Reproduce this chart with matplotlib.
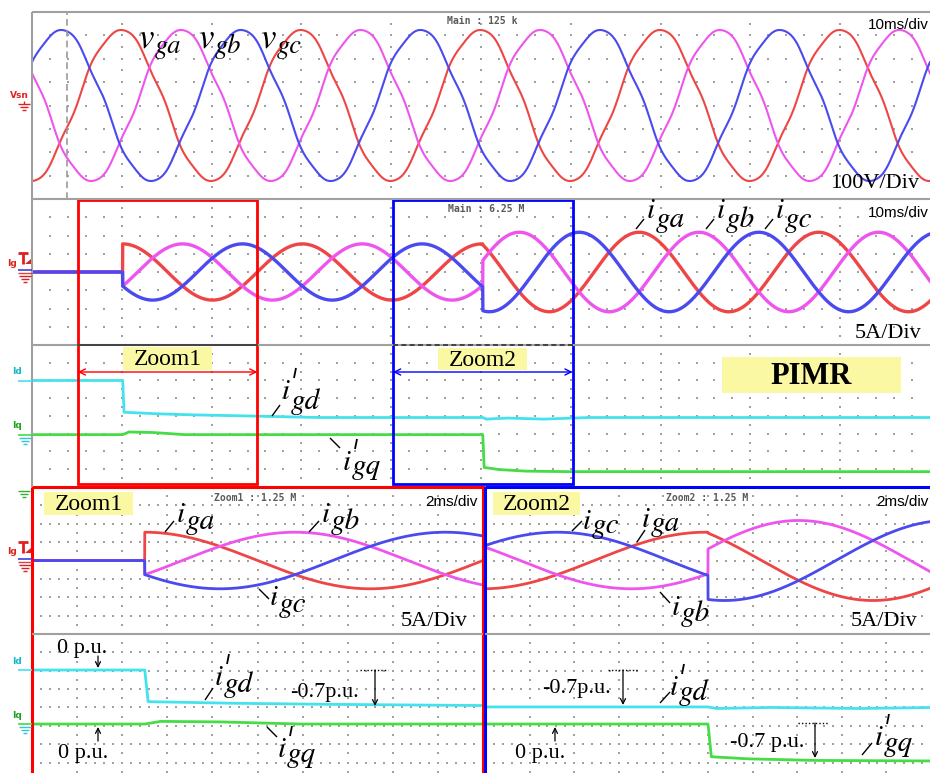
import numpy as np
import matplotlib
matplotlib.use("Agg")
import matplotlib.pyplot as plt
from matplotlib.patches import Rectangle
from matplotlib.transforms import blended_transform_factory

plt.rcParams["mathtext.fontset"] = "stix"

# ---------------- signal description ----------------
f_grid = 50.0                          # Hz
v_peak = 323.0                         # phase-voltage amplitude, V
v_ref_ms = 9.85                        # phase-a fundamental maximum (voltage)
i_ref_ms = 10.1                        # phase-a reference angle for the currents
phase_lag_deg = [0.0, 120.0, 240.0]    # phases a, b, c
v_harm_order = [5, 7]
v_harm_amp = [0.025, 0.015]            # relative to fundamental
v_harm_phase_deg = [-90.0, 90.0]

i_base = 11.0                          # A per p.u.
step_ms = [10.1, 50.2]                 # id' step, iq' step
id_level = [0.0, -0.7, -0.7]           # p.u. before / between / after the steps
iq_level = [0.0, 0.0, -0.7]

# id' / iq' traces (p.u.) with their settling
id_t = [0.0, 10.1, 10.25, 11.5, 14.0, 18.0, 24.0, 32.0, 50.2, 50.6, 53.0, 57.0, 62.0, 100.0]
id_v = [0.0, 0.0, -0.60, -0.61, -0.63, -0.65, -0.67, -0.70, -0.70, -0.73, -0.71, -0.73, -0.70, -0.70]
iq_t = [0.0, 10.1, 10.8, 13.5, 17.0, 50.2, 50.35, 52.0, 55.0, 60.0, 100.0]
iq_v = [0.0, 0.0, 0.05, 0.04, 0.0, 0.0, -0.62, -0.66, -0.69, -0.70, -0.70]

main_span_ms = [0.0, 100.0]
zoom1_ms = [5.1, 25.1]
zoom2_ms = [40.2, 60.2]
cursor_ms = 3.9

phase_colors = ["#ee4646", "#ee55ee", "#4a4aee"]
id_color = "#44e2ec"
iq_color = "#46dc46"

# ---------------- figure / layout ----------------
W, H = 930, 773
fig = plt.figure(figsize=(W / 100, H / 100), dpi=100)


def px_axes(x0, y0, x1, y1, z=1):
    ax = fig.add_axes([x0 / W, 1 - y1 / H, (x1 - x0) / W, (y1 - y0) / H], zorder=z)
    ax.set_axis_off()
    return ax


def angle(t, k, ref):
    return 2 * np.pi * f_grid * (t - ref) / 1000.0 - np.deg2rad(phase_lag_deg[k])


def voltage(t, k):
    th = angle(t, k, v_ref_ms)
    v = np.cos(th)
    for n, a, p in zip(v_harm_order, v_harm_amp, v_harm_phase_deg):
        v = v + a * np.cos(n * th + np.deg2rad(p))
    return v_peak * v


def level(t, levels):
    return np.asarray(levels)[np.searchsorted(step_ms, t, side="right")]


def current(t, k):
    th = angle(t, k, i_ref_ms)
    return i_base * (-level(t, id_level) * np.cos(th) + level(t, iq_level) * np.sin(th))


def dot_grid(ax, x0, x1, nx, y0, y1, ny, col_steps=2):
    xd = (x1 - x0) / nx
    yd = (y1 - y0) / ny
    xs = np.arange(x0 + xd / 5, x1, xd / 5)
    for j in range(1, ny):
        ax.scatter(xs, np.full_like(xs, y0 + j * yd), s=1.0, marker="s",
                   c="#a0a0a0", lw=0, zorder=0)
    ys = np.arange(y0 + yd / col_steps, y1, yd / col_steps)
    for i in range(1, nx):
        ax.scatter(np.full_like(ys, x0 + i * xd), ys, s=1.0, marker="s",
                   c="#a0a0a0", lw=0, zorder=0)


def setup(ax, xlim, ylim):
    ax.set_xlim(*xlim)
    ax.set_ylim(*ylim)
    dot_grid(ax, xlim[0], xlim[1], 10, ylim[0], ylim[1], 8)


# main panels
ax_v = px_axes(32, 12, 930, 199)
ax_i = px_axes(32, 199, 930, 345)
ax_dq = px_axes(32, 345, 930, 487)
# zoom panels
ax_z1i = px_axes(32, 487, 483, 634)
ax_z1dq = px_axes(32, 634, 483, 781)
ax_z2i = px_axes(485, 487, 931, 634)
ax_z2dq = px_axes(485, 634, 931, 781)

setup(ax_v, main_span_ms, (-400, 400))          # 100 V/div
setup(ax_i, main_span_ms, (-20, 20))            # 5 A/div
setup(ax_dq, main_span_ms, (-4, 4))             # divisions
for ax, win in [(ax_z1i, zoom1_ms), (ax_z2i, zoom2_ms)]:
    setup(ax, win, (-20, 20))
for ax, win in [(ax_z1dq, zoom1_ms), (ax_z2dq, zoom2_ms)]:
    setup(ax, win, (-4, 4))

# channel offsets (div) and scales (div per p.u.)
main_id_pos, main_iq_pos, main_pu = 2.0, -1.05, 2.98
zoom_id_pos, zoom_iq_pos, zoom_pu = 2.04, -0.9, 2.87

# ---------------- traces ----------------
t_main = np.linspace(*main_span_ms, 6000)
for k in range(3):
    ax_v.plot(t_main, voltage(t_main, k), color=phase_colors[k], lw=1.5)
ax_v.axvline(cursor_ms, color="#9a9a9a", lw=1.2, ls=(0, (4, 2.5)))

for k in range(3):
    ax_i.plot(t_main, current(t_main, k), color=phase_colors[k], lw=2.4,
              solid_joinstyle="round")

ax_dq.plot(id_t, main_id_pos + main_pu * np.asarray(id_v), color=id_color, lw=2.0)
ax_dq.plot(iq_t, main_iq_pos + main_pu * np.asarray(iq_v), color=iq_color, lw=2.0)

for ax_c, ax_d, win in [(ax_z1i, ax_z1dq, zoom1_ms), (ax_z2i, ax_z2dq, zoom2_ms)]:
    tz = np.linspace(*win, 4000)
    for k in range(3):
        ax_c.plot(tz, current(tz, k), color=phase_colors[k], lw=2.0)
    ax_d.plot(id_t, zoom_id_pos + zoom_pu * np.asarray(id_v), color=id_color, lw=2.0)
    ax_d.plot(iq_t, zoom_iq_pos + zoom_pu * np.asarray(iq_v), color=iq_color, lw=2.0)

# ---------------- overlay: frames, boxes, annotations ----------------
ov = fig.add_axes([0, 0, 1, 1], zorder=20)
ov.set_axis_off()
ov.set_xlim(0, W)
ov.set_ylim(H, 0)
ov.set_autoscale_on(False)

GRAY = "#a0a0a0"


def seg(x0, y0, x1, y1, **kw):
    kw.setdefault("color", "black")
    kw.setdefault("lw", 1.0)
    ov.plot([x0, x1], [y0, y1], solid_capstyle="butt", **kw)


# scope frame
seg(32, 12, 932, 12, color=GRAY, lw=1.5)
seg(32, 12, 32, 487, color=GRAY, lw=1.5)
seg(32, 199, 932, 199, color=GRAY, lw=1.5)
seg(32, 345, 932, 345, color=GRAY, lw=1.5)
seg(32, 634, 483, 634, color=GRAY, lw=1.5)
seg(485, 634, 932, 634, color=GRAY, lw=1.5)

# zoom windows on the main record (time from data, height in pixels)
tr_box = blended_transform_factory(ax_i.transData, ov.transData)
for win, col, sep_ls in [(zoom1_ms, "#ff0000", "-"), (zoom2_ms, "#0000ff", (0, (3, 2)))]:
    ov.plot(win, [345, 345], color="#333333", lw=1.2, ls=sep_ls, transform=tr_box)
    ov.add_patch(Rectangle((win[0], 200), win[1] - win[0], 284, fill=False,
                           ec=col, lw=2.0, transform=tr_box))
    ov.annotate("", xy=(win[1], 372), xytext=(win[0], 372), xycoords=tr_box,
                textcoords=tr_box,
                arrowprops=dict(arrowstyle="<->", color=col, lw=1.0,
                                mutation_scale=11, shrinkA=0, shrinkB=0))

# zoom panel frames
ov.add_patch(Rectangle((32, 487), 451, 300, fill=False, ec="#ff0000", lw=2.2))
ov.add_patch(Rectangle((485, 487), 460, 300, fill=False, ec="#0000ff", lw=2.2))

YEL = "#fbf8a4"
SERIF = "Liberation Serif"


def tag(x0, y0, x1, y1, text, size=17, weight="normal"):
    ov.add_patch(Rectangle((x0, y0), x1 - x0, y1 - y0, fc=YEL, ec="none", zorder=1))
    ov.text((x0 + x1) / 2, (y0 + y1) / 2 + 1, text, ha="center", va="center",
            fontsize=size, family=SERIF, weight=weight, zorder=2)


tag(123, 347, 212, 370, "Zoom1")
tag(438, 348, 527, 370, "Zoom2")
tag(722, 357, 901, 393, "PIMR", size=22, weight="bold")
tag(44, 492, 133, 515, "Zoom1")
tag(493, 492, 580, 515, "Zoom2")

# scope status text
MONO = dict(family="DejaVu Sans Mono", fontsize=7, weight="bold", color="#5a5a5a",
            ha="center", va="center")
ov.text(482, 21, "Main : 125 k", **MONO)
ov.text(486, 209, "Main : 6.25 M", **MONO)
ov.text(255, 498, "Zoom1 : 1.25 M", **MONO)
ov.text(707, 498, "Zoom2 : 1.25 M", **MONO)

SANS = dict(family="Liberation Sans", fontsize=11, va="baseline", ha="left")
ov.text(868, 29, "10ms/div", **SANS)
ov.text(868, 217, "10ms/div", **SANS)
ov.text(425, 506, "2ms/div", **SANS)
ov.text(876, 506, "2ms/div", **SANS)

SC = dict(family=SERIF, fontsize=16, va="baseline", ha="left")
ov.text(830, 188, "100V/Div", **SC)
ov.text(855, 338, "5A/Div", **SC)
ov.text(401, 626, "5A/Div", **SC)
ov.text(851, 626, "5A/Div", **SC)


def sym(x, y, main, sub, size=21, sub_dx=9, sub_dy=8, sub_size=None, prime=False):
    ov.text(x, y, main, family="STIXGeneral", style="italic", fontsize=size,
            va="baseline", ha="left")
    ov.text(x + sub_dx, y + sub_dy, sub, family="STIXGeneral", style="italic",
            fontsize=sub_size or size, va="baseline", ha="left")
    if prime:
        seg(x + 14, y - 31, x + 12, y - 21, lw=1.3)


# voltage names
for x, s in [(138, "ga"), (198, "gb"), (260, "gc")]:
    sym(x, 47, "v", s, size=25, sub_dx=17, sub_dy=6, sub_size=19)

# main current names with leaders
for x, s in [(647, "ga"), (717, "gb"), (776, "gc")]:
    sym(x, 218, "i", s, sub_dy=9)
    seg(x - 11, 229, x - 3, 219)

sym(282, 399, "i", "gd", sub_dy=10, prime=True)
seg(272, 416, 280, 405)
sym(343, 470, "i", "gq", sub_dy=4, prime=True)
seg(330, 438, 340, 448)

# zoom-1 names
sym(177, 522, "i", "ga", sub_dy=7)
seg(165, 532, 174, 521)
sym(322, 522, "i", "gb", sub_dy=7)
seg(309, 532, 319, 521)
sym(270, 605, "i", "gc", sub_dy=7)
seg(259, 589, 269, 599)

# zoom-2 names
sym(583, 529, "i", "gc", sub_dy=4)
seg(572, 531, 582, 521)
sym(642, 527, "i", "ga", sub_dy=4)
seg(637, 542, 645, 530)
sym(672, 615, "i", "gb", sub_dy=6)
seg(660, 592, 670, 603)

# zoom dq names
sym(215, 685, "i", "gd", sub_dy=7, prime=True)
seg(205, 700, 213, 688)
sym(278, 757, "i", "gq", sub_dy=5, prime=True)
seg(267, 727, 277, 737)
sym(670, 695, "i", "gd", sub_dy=5, prime=True)
seg(660, 703, 670, 692)
sym(875, 745, "i", "gq", sub_dy=6, prime=True)
seg(862, 755, 872, 743)

# p.u. markers
PU = dict(family=SERIF, fontsize=16, va="baseline", ha="left")


def pointer(x, y0, y1, dotted=None):
    if dotted is not None:
        seg(dotted[0], y0, dotted[1], y0, lw=1.0, ls=(0, (1, 1.5)))
    ov.annotate("", xy=(x, y1), xytext=(x, y0),
                arrowprops=dict(arrowstyle="->", color="black", lw=0.9,
                                mutation_scale=9, shrinkA=0, shrinkB=0))


ov.text(57, 653, "0 p.u.", **PU)
pointer(98, 656, 668)
ov.text(58, 758, "0 p.u.", **PU)
pointer(98, 741, 727)
ov.text(290, 697, "-0.7p.u.", **PU)
pointer(375, 670, 706, dotted=(360, 388))

ov.text(542, 693, "-0.7p.u.", **PU)
pointer(623, 670, 705, dotted=(608, 638))
ov.text(515, 758, "0 p.u.", **PU)
pointer(555, 741, 727)
ov.text(730, 747, "-0.7 p.u.", **PU)
pointer(815, 723, 758, dotted=(798, 828))

# channel markers on the left edge
CH = dict(fontsize=6.5, weight="bold", family="DejaVu Sans", va="center", ha="left")


def ground(xc, y, col):
    for j, w in enumerate([12, 8, 4]):
        seg(xc - w / 2, y + 3 * j, xc + w / 2, y + 3 * j, color=col, lw=1.0)


def trigger(xc, y, col):
    # small "T" flag of the trigger channel
    seg(xc - 5, y, xc + 5, y, color=col, lw=2.0)
    seg(xc, y, xc, y + 11, color=col, lw=2.0)
    ov.fill([xc + 2, xc + 8, xc + 8], [y + 11, y + 11, y + 6], color=col, lw=0)


ov.text(10, 96, "Vsn", color="#e02020", **CH)
seg(24, 101, 24, 104, color="#e02020")
ground(24, 104, "#e02020")

ov.text(7, 263, "Ig", color="#e02020", **CH)
trigger(23, 253, "#e02020")
seg(18, 270, 32, 270, color="#4040e0", lw=1.2)
seg(18, 273, 32, 273, color="#e04040", lw=1.0)
ground(25, 276, "#e02020")

ov.text(12, 372, "Id", color="#10b8c8", **CH)
seg(18, 381, 32, 381, color=id_color, lw=1.2)
ov.text(12, 425, "Iq", color="#20a020", **CH)
seg(18, 435, 32, 435, color=iq_color, lw=1.2)
ground(25, 438, "#30c8d8")

ground(24, 491, "#30b030")
ov.text(7, 552, "Ig", color="#e02020", **CH)
trigger(23, 542, "#e02020")
seg(18, 559, 32, 559, color="#4040e0", lw=1.2)
seg(18, 562, 32, 562, color="#e04040", lw=1.0)
ground(25, 565, "#e02020")

ov.text(12, 661, "Id", color="#10b8c8", **CH)
seg(18, 670, 32, 670, color=id_color, lw=1.2)
ov.text(12, 716, "Iq", color="#20a020", **CH)
seg(18, 724, 32, 724, color=iq_color, lw=1.2)
ground(25, 727, "#30c8d8")

fig.savefig("out.png", dpi=100, facecolor="white")
